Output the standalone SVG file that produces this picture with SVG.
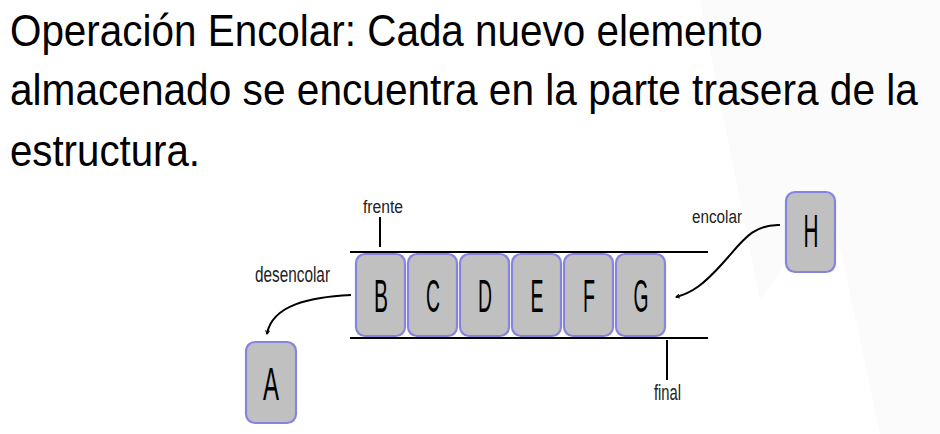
<svg xmlns="http://www.w3.org/2000/svg" width="940" height="434" viewBox="0 0 940 434">
<defs>
<style>
.title{font-family:"Liberation Sans",Arial,sans-serif;font-size:45px;fill:#000}
.lbl{font-family:"Liberation Sans",Arial,sans-serif;fill:#222}
.box{fill:#c0c0c0;stroke:#8585e0;stroke-width:2.2}
.let{font-family:"Liberation Sans",Arial,sans-serif;font-size:46px;fill:#000;text-anchor:middle}
.ln{stroke:#000;stroke-width:2;fill:none}
.arr{stroke:#000;stroke-width:2;fill:none;marker-end:url(#ah)}
</style>
<marker id="ah" viewBox="0 0 10 10" refX="8" refY="5" markerWidth="5" markerHeight="5" orient="auto" markerUnits="userSpaceOnUse">
<path d="M1,1 L8,5 L1,9" fill="none" stroke="#000" stroke-width="2"/>
</marker>
</defs>
<rect width="940" height="434" fill="#fff"/>
<g id="background" fill="#fbfbfb">
<polygon points="700,0 940,0 940,40 830,200 760,300"/>
<polygon points="830,200 940,40 940,434 880,434"/>
</g>
<g id="title" transform="scale(0.83,1)">
<text class="title" x="12" y="46" textLength="907" lengthAdjust="spacingAndGlyphs">Operación Encolar: Cada nuevo elemento</text>
<text class="title" x="12" y="105" textLength="1094" lengthAdjust="spacingAndGlyphs">almacenado se encuentra en la parte trasera de la</text>
<text class="title" x="12" y="166" textLength="229" lengthAdjust="spacingAndGlyphs">estructura.</text>
</g>
<g id="connectors">
<line class="ln" x1="350" y1="252" x2="708" y2="252"/>
<line class="ln" x1="350" y1="338" x2="708" y2="338"/>
<line class="ln" x1="380" y1="217" x2="380" y2="247"/>
<line class="ln" x1="667" y1="340" x2="667" y2="380"/>
<path class="arr" d="M351,295 C310,297 272,305 267,334"/>
<path class="arr" d="M780,225 C752,224 742,242 722,264 C704,284 692,293 676,297"/>
</g>
<g id="labels">
<text class="lbl" x="363" y="213" font-size="18" textLength="40" lengthAdjust="spacingAndGlyphs">frente</text>
<text class="lbl" x="255" y="282" font-size="22" textLength="75" lengthAdjust="spacingAndGlyphs">desencolar</text>
<text class="lbl" x="692" y="223" font-size="18" textLength="50" lengthAdjust="spacingAndGlyphs">encolar</text>
<text class="lbl" x="654" y="400" font-size="22" textLength="27" lengthAdjust="spacingAndGlyphs">final</text>
</g>
<g id="node-B"><rect class="box" x="356" y="254" width="49" height="82" rx="9"/><text class="let" x="381" y="312" textLength="14" lengthAdjust="spacingAndGlyphs">B</text></g>
<g id="node-C"><rect class="box" x="408" y="254" width="49" height="82" rx="9"/><text class="let" x="433" y="312" textLength="14" lengthAdjust="spacingAndGlyphs">C</text></g>
<g id="node-D"><rect class="box" x="460" y="254" width="49" height="82" rx="9"/><text class="let" x="485" y="312" textLength="14" lengthAdjust="spacingAndGlyphs">D</text></g>
<g id="node-E"><rect class="box" x="512" y="254" width="49" height="82" rx="9"/><text class="let" x="537" y="312" textLength="13" lengthAdjust="spacingAndGlyphs">E</text></g>
<g id="node-F"><rect class="box" x="564" y="254" width="49" height="82" rx="9"/><text class="let" x="589" y="312" textLength="12" lengthAdjust="spacingAndGlyphs">F</text></g>
<g id="node-G"><rect class="box" x="616" y="254" width="49" height="82" rx="9"/><text class="let" x="641" y="312" textLength="15" lengthAdjust="spacingAndGlyphs">G</text></g>
<g id="node-H"><rect class="box" x="786" y="192" width="49" height="80" rx="9"/><text class="let" x="811" y="247" textLength="15" lengthAdjust="spacingAndGlyphs">H</text></g>
<g id="node-A"><rect class="box" x="246" y="342" width="50" height="81" rx="9"/><text class="let" x="271" y="400" textLength="16" lengthAdjust="spacingAndGlyphs">A</text></g>
</svg>
